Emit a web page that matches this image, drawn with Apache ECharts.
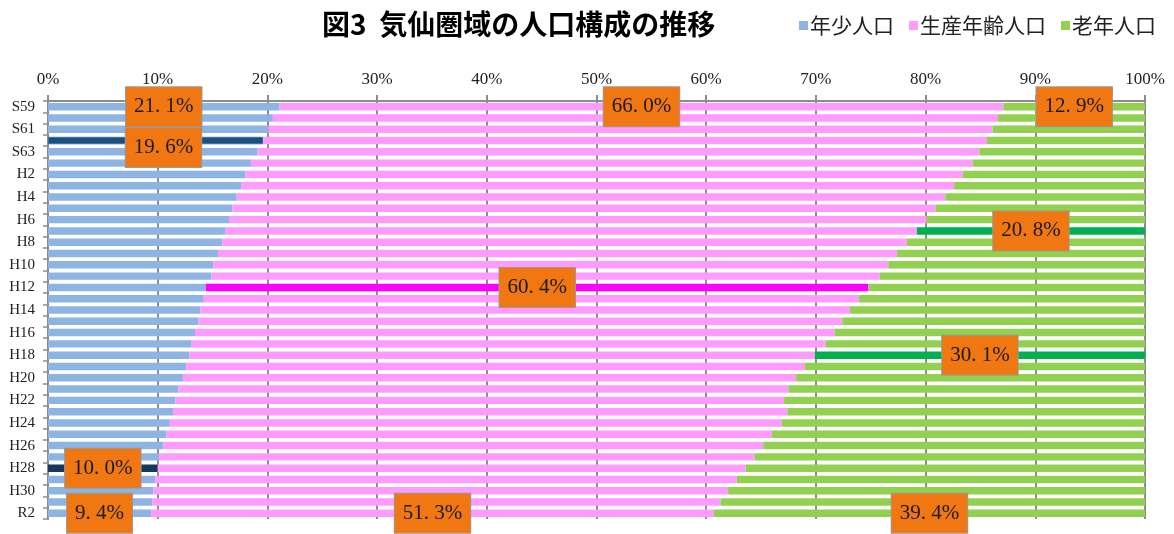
<!DOCTYPE html>
<html>
<head>
<meta charset="utf-8">
<script src="https://cdn.jsdelivr.net/npm/echarts@6/dist/echarts.min.js"></script>
<style>
  html, body { margin: 0; padding: 0; background: #fff; }
  #chart { width: 1174px; height: 534px; }
</style>
</head>
<body>
<div id="chart"></div>
<script>
// categories S59 .. R2
var categories = ['S59','S60','S61','S62','S63','H1','H2','H3','H4','H5','H6','H7','H8','H9','H10',
  'H11','H12','H13','H14','H15','H16','H17','H18','H19','H20','H21','H22','H23','H24','H25',
  'H26','H27','H28','H29','H30','R1','R2'];
var seriesNames = ['年少人口', '生産年齢人口', '老年人口'];

// percentages
var youngData = [21.1,20.5,20.1,19.6,19.1,18.5,18.0,17.6,17.2,16.8,16.5,16.2,15.9,15.5,15.1,
  14.9,14.4,14.2,13.9,13.7,13.4,13.1,12.9,12.6,12.3,11.9,11.6,11.4,11.1,10.8,
  10.5,10.1,10.0,9.8,9.6,9.5,9.4];
var workingData = [66.0,66.1,66.0,66.0,65.8,65.8,65.4,65.0,64.6,64.1,63.6,63.0,62.4,61.9,61.5,
  60.9,60.4,59.7,59.2,58.7,58.3,57.8,57.0,56.4,55.9,55.6,55.5,56.0,55.8,55.2,
  54.7,54.3,53.6,53.0,52.4,51.8,51.3];
var elderlyData = [12.9,13.4,13.9,14.4,15.1,15.7,16.6,17.4,18.2,19.1,19.9,20.8,21.7,22.6,23.4,
  24.2,25.2,26.1,26.9,27.6,28.3,29.1,30.1,31.0,31.8,32.5,32.9,32.6,33.1,34.0,
  34.8,35.6,36.4,37.2,38.0,38.7,39.4];

// which bars get a data label (category index per series)
var labeledYoung = [0, 3, 32, 36];
var labeledWorking = [0, 16, 36];
var labeledElderly = [0, 11, 22, 36];

var baseColors = ['#8DB4E2', '#FF9BFF', '#92D050'];
// highlighted segments
var highlights = [
  { s: 0, i: 3, color: '#1F4E79', border: '#2E75B6' },
  { s: 0, i: 32, color: '#17375E' },
  { s: 1, i: 16, color: '#FF00FF' },
  { s: 2, i: 11, color: '#00B050' },
  { s: 2, i: 22, color: '#00B050' }
];

function fmt(p) {
  // the original font shows a wide gap after the decimal point
  return p.value.toFixed(1).replace('.', '. ') + '%';
}

var labelStyle = {
  show: true,
  position: 'inside',
  formatter: fmt,
  fontFamily: '"Liberation Serif", serif',
  fontSize: 21,
  color: '#1a1a1a',
  backgroundColor: '#F07712',
  borderColor: '#9a9a9a',
  borderWidth: 1,
  padding: [9, 8]
};

function buildData(values, s, labeled) {
  return values.map(function (v, i) {
    var item = { value: v };
    highlights.forEach(function (h) {
      if (h.s === s && h.i === i) {
        item.itemStyle = { color: h.color };
        if (h.border) { item.itemStyle.borderColor = h.border; item.itemStyle.borderWidth = 1; }
      }
    });
    if (labeled.indexOf(i) >= 0) {
      item.label = Object.assign({}, labelStyle);
      // 19.6% label was nudged in the original
      if (s === 0 && i === 3) item.label.offset = [8, 7];
    }
    return item;
  });
}

var myChart = echarts.init(document.getElementById('chart'));
var serifFont = '"Liberation Serif", "Noto Sans CJK JP", serif';

myChart.setOption({
  animation: false,
  title: {
    text: '図3  気仙圏域の人口構成の推移',
    left: 317,
    top: 5,
    textStyle: {
      fontFamily: '"Noto Sans CJK JP", sans-serif',
      fontWeight: 'bold',
      fontSize: 28,
      color: '#000'
    }
  },
  legend: {
    left: 794,
    top: 10,
    itemWidth: 9,
    itemHeight: 9,
    itemGap: 15,
    icon: 'rect',
    textStyle: {
      fontFamily: '"Noto Sans CJK JP", sans-serif',
      fontSize: 21,
      color: '#222',
      padding: [0, 0, 0, -3]
    },
    data: seriesNames
  },
  grid: {
    left: 48,
    right: 29,
    top: 101,
    bottom: 15,
    containLabel: false
  },
  xAxis: {
    type: 'value',
    position: 'top',
    min: 0,
    max: 100,
    interval: 10,
    axisLine: { show: true, lineStyle: { color: '#8c8c8c', width: 2 } },
    axisTick: { show: true, length: 6, lineStyle: { color: '#8c8c8c', width: 2 } },
    splitLine: { show: true, lineStyle: { color: '#8c8c8c', width: 2 } },
    axisLabel: {
      formatter: '{value}%',
      fontFamily: serifFont,
      fontSize: 17,
      color: '#222',
      margin: 13
    }
  },
  yAxis: {
    type: 'category',
    inverse: true,
    data: categories,
    axisLine: { show: true, lineStyle: { color: '#8c8c8c', width: 2 } },
    axisTick: { show: true, interval: 0, length: 5, lineStyle: { color: '#8c8c8c', width: 1.5 } },
    axisLabel: {
      interval: 1,
      fontFamily: serifFont,
      fontSize: 15,
      color: '#222',
      margin: 13
    }
  },
  series: [
    {
      name: seriesNames[0], type: 'bar', stack: 'total', barCategoryGap: '34%',
      itemStyle: { color: baseColors[0] },
      data: buildData(youngData, 0, labeledYoung)
    },
    {
      name: seriesNames[1], type: 'bar', stack: 'total', barCategoryGap: '34%',
      itemStyle: { color: baseColors[1] },
      data: buildData(workingData, 1, labeledWorking)
    },
    {
      name: seriesNames[2], type: 'bar', stack: 'total', barCategoryGap: '34%',
      itemStyle: { color: baseColors[2] },
      data: buildData(elderlyData, 2, labeledElderly)
    }
  ]
});
</script>
</body>
</html>
